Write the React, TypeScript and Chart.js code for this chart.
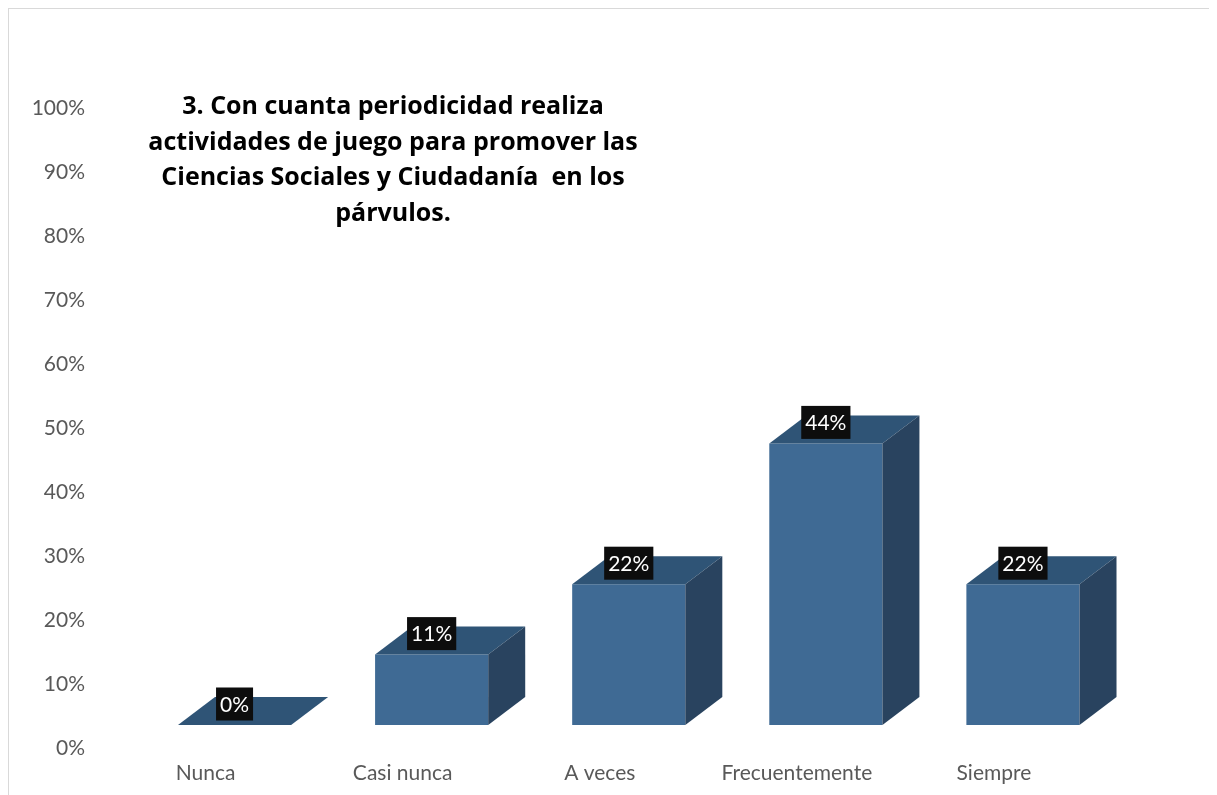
import React, { useEffect, useRef } from "react";
import { Chart, registerables } from "chart.js";

Chart.register(...registerables);

const categories = ["Nunca", "Casi nunca", "A veces", "Frecuentemente", "Siempre"];
const values = [0, 0.11, 0.22, 0.44, 0.22];
const valueLabels = ["0%", "11%", "22%", "44%", "22%"];
const titleLines = [
  "3. Con cuanta periodicidad realiza",
  "actividades de juego para promover las",
  "Ciencias Sociales y Ciudadanía  en los",
  "párvulos.",
];

const FRONT = "#3F6A94";
const TOP = "#2F5476";
const SIDE = "#29435F";
const SHIFT_X = 29;
const SHIFT_Y = -23;
const DEPTH_X = 37;
const DEPTH_Y = -28;

const bar3d = {
  id: "bar3d",
  beforeDatasetsDraw(chart: any) {
    const ctx = chart.ctx;
    ctx.save();
    ctx.translate(SHIFT_X, SHIFT_Y);
  },
  afterDatasetsDraw(chart: any) {
    const ctx = chart.ctx;
    const meta = chart.getDatasetMeta(0);
    meta.data.forEach((bar: any) => {
      const { x, y, base, width } = bar.getProps(["x", "y", "base", "width"], true);
      const x0 = x - width / 2;
      const x1 = x + width / 2;
      ctx.beginPath();
      ctx.moveTo(x0, y);
      ctx.lineTo(x1, y);
      ctx.lineTo(x1 + DEPTH_X, y + DEPTH_Y);
      ctx.lineTo(x0 + DEPTH_X, y + DEPTH_Y);
      ctx.closePath();
      ctx.fillStyle = TOP;
      ctx.fill();
      if (base - y > 0.5) {
        ctx.beginPath();
        ctx.moveTo(x1, y);
        ctx.lineTo(x1 + DEPTH_X, y + DEPTH_Y);
        ctx.lineTo(x1 + DEPTH_X, base + DEPTH_Y);
        ctx.lineTo(x1, base);
        ctx.closePath();
        ctx.fillStyle = SIDE;
        ctx.fill();
      }
    });
    ctx.font = "21px Lato";
    ctx.textAlign = "center";
    ctx.textBaseline = "middle";
    meta.data.forEach((bar: any, i: number) => {
      const { x, y } = bar.getProps(["x", "y"], true);
      const txt = valueLabels[i];
      const w = ctx.measureText(txt).width + 8;
      const h = 33;
      const cy = y - 21;
      ctx.fillStyle = "#0D0D0D";
      ctx.fillRect(x - w / 2, cy - h / 2, w, h);
      ctx.fillStyle = "#FFFFFF";
      ctx.fillText(txt, x, cy + 1);
    });
    ctx.restore();
  },
  afterDraw(chart: any) {
    const ctx = chart.ctx;
    ctx.save();
    ctx.font = "bold 25px 'Open Sans'";
    ctx.fillStyle = "#000000";
    ctx.textAlign = "center";
    ctx.textBaseline = "middle";
    const cx = 384;
    const ys = [98, 134, 169, 205];
    titleLines.forEach((line, i) => ctx.fillText(line, cx, ys[i]));
    ctx.restore();
  },
};

export default function App() {
  const ref = useRef<HTMLCanvasElement | null>(null);
  useEffect(() => {
    document.documentElement.style.overflow = "hidden";
    const chart = new Chart(ref.current as HTMLCanvasElement, {
      type: "bar",
      data: {
        labels: categories,
        datasets: [
          {
            data: values,
            backgroundColor: FRONT,
            borderWidth: 0,
            categoryPercentage: 1,
            barPercentage: 0.574,
            clip: false as any,
          },
        ],
      },
      options: {
        responsive: false,
        animation: false,
        devicePixelRatio: 1,
        layout: { padding: { left: 0, right: 124.5, top: 99, bottom: 7 } },
        plugins: { legend: { display: false }, tooltip: { enabled: false }, title: { display: false } },
        scales: {
          x: {
            grid: { display: false, drawTicks: false },
            border: { display: false },
            ticks: { color: "#595959", font: { family: "Lato", size: 21 }, padding: 13, maxRotation: 0 },
            afterFit: (s: any) => {
              s.height = 40;
            },
          },
          y: {
            min: 0,
            max: 1,
            grid: { display: false, drawTicks: false },
            border: { display: false },
            ticks: {
              stepSize: 0.1,
              color: "#595959",
              font: { family: "Lato", size: 21 },
              padding: 22,
              callback: (v: any) => Math.round(Number(v) * 100) + "%",
            },
            afterFit: (s: any) => {
              s.width = 98;
            },
          },
        },
      },
      plugins: [bar3d],
    });
    return () => chart.destroy();
  }, []);
  return (
    <div
      style={{
        width: 1208,
        height: 786,
        borderTop: "1px solid #d9d9d9",
        borderLeft: "1px solid #d9d9d9",
        background: "#fff",
      }}
    >
      <canvas ref={ref} width={1208} height={786} style={{ display: "block" }} />
    </div>
  );
}
